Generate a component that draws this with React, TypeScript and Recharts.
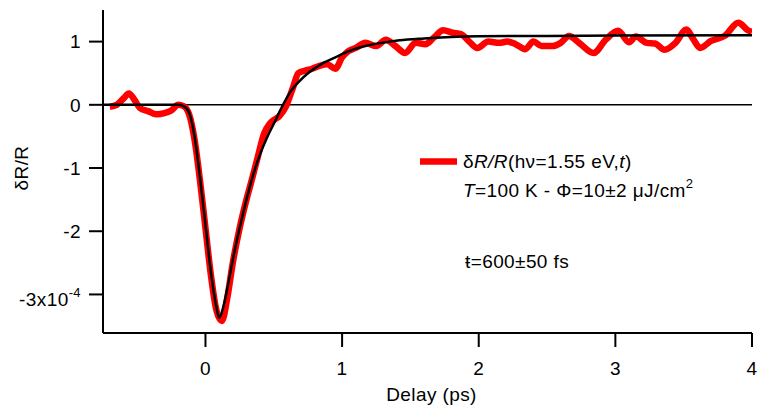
import { Line, LineChart, ReferenceLine, XAxis, YAxis } from "recharts";

// δR/R transient (units of 1e-4) vs delay (ps)
const DELAY_DATA = [
  -0.7, -0.65, -0.6, -0.56, -0.52, -0.48, -0.42, -0.36, -0.3, -0.25, -0.2, -0.16,
  -0.12, -0.08, -0.04, 0.0, 0.04, 0.08, 0.12, 0.16, 0.2, 0.25, 0.3, 0.34, 0.38,
  0.43, 0.47, 0.5, 0.54, 0.59, 0.64, 0.68, 0.73, 0.78, 0.84, 0.89, 0.95, 1.0,
  1.04, 1.1, 1.17, 1.25, 1.32, 1.39, 1.46, 1.54, 1.61, 1.67, 1.74, 1.81, 1.87,
  1.93, 1.99, 2.07, 2.15, 2.21, 2.27, 2.34, 2.4, 2.46, 2.54, 2.6, 2.66, 2.74,
  2.84, 2.93, 3.02, 3.1, 3.15, 3.23, 3.29, 3.36, 3.44, 3.52, 3.57, 3.62, 3.7,
  3.8, 3.9, 3.97, 4.0,
];
const SIGNAL = [
  -0.03, 0.0, 0.1, 0.18, 0.08, -0.05, -0.1, -0.15, -0.13, -0.09, 0.0, -0.02,
  -0.15, -0.55, -1.2, -1.95, -2.7, -3.25, -3.42, -3.05, -2.5, -1.95, -1.5, -1.18,
  -0.85, -0.45, -0.3, -0.24, -0.18, -0.02, 0.27, 0.5, 0.54, 0.57, 0.62, 0.64,
  0.57, 0.75, 0.84, 0.9, 0.98, 0.93, 1.03, 0.93, 0.82, 0.98, 0.96, 1.06, 1.18,
  1.14, 1.12, 1.0, 0.9, 1.0, 0.98, 1.0, 0.96, 0.88, 1.0, 0.93, 0.93, 0.98, 1.09,
  0.97, 0.82, 1.03, 1.17, 0.99, 1.08, 0.98, 0.97, 0.87, 0.98, 1.19, 1.04, 0.9,
  1.01, 1.09, 1.3, 1.18, 1.15,
];

// fit curve
const DELAY_FIT = [
  -0.75, -0.3, -0.2, -0.16, -0.12, -0.08, -0.04, 0.0, 0.04, 0.08, 0.1, 0.13, 0.16,
  0.2, 0.25, 0.3, 0.35, 0.4, 0.45, 0.5, 0.56, 0.62, 0.69, 0.75, 0.81, 0.87, 0.93,
  1.05, 1.17, 1.29, 1.42, 1.6, 1.76, 2.0, 2.5, 3.0, 4.0,
];
const FIT = [
  0, 0, 0, -0.02, -0.12, -0.5, -1.15, -1.9, -2.65, -3.2, -3.37, -3.2, -2.9,
  -2.45, -1.95, -1.5, -1.1, -0.78, -0.52, -0.3, -0.03, 0.2, 0.38, 0.5, 0.59,
  0.67, 0.73, 0.85, 0.93, 0.98, 1.02, 1.05, 1.07, 1.085, 1.09, 1.095, 1.1,
];

const X_TICKS = [0, 1, 2, 3, 4];
const Y_TICKS = [-3, -2, -1, 0, 1];

const signalData = DELAY_DATA.map((t, i) => ({ t, v: SIGNAL[i] }));
const fitData = DELAY_FIT.map((t, i) => ({ t, v: FIT[i] }));

const RED = "#ff0000";
const FONT = "'Liberation Sans', Arial, Helvetica, sans-serif";
const FS = 19;
const LS = "0.4px";

function YTick({ x, y, payload }: any) {
  const v = payload.value;
  if (v === -3) {
    return (
      <text x={x} y={y + 12} textAnchor="end" fontSize={FS} letterSpacing={LS} fill="#000">
        -3x10
        <tspan dy={-9} fontSize={13}>
          -4
        </tspan>
      </text>
    );
  }
  return (
    <text x={x} y={y} dy="0.36em" textAnchor="end" fontSize={FS} letterSpacing={LS} fill="#000">
      {v}
    </text>
  );
}

export default function App() {
  return (
    <div
      style={{
        position: "absolute",
        left: 0,
        top: 0,
        width: 758,
        height: 412,
        fontFamily: FONT,
        letterSpacing: LS,
        background: "#fff",
      }}
    >
      <LineChart
        width={758}
        height={412}
        margin={{ top: 10, right: 6, bottom: 0, left: 0 }}
      >
        <XAxis
          type="number"
          dataKey="t"
          domain={[-0.75, 4]}
          ticks={X_TICKS}
          allowDataOverflow
          height={79}
          tickSize={14}
          tickMargin={15}
          axisLine={{ stroke: "#000", strokeWidth: 2 }}
          tickLine={{ stroke: "#000", strokeWidth: 2 }}
          tick={{ fill: "#000", fontSize: FS }}
          label={{
            value: "Delay (ps)",
            position: "insideBottom",
            offset: 11,
            fill: "#000",
            fontSize: FS,
            dx: 4,
          }}
        />
        <YAxis
          type="number"
          domain={[-3.61, 1.5]}
          ticks={Y_TICKS}
          allowDataOverflow
          width={103}
          tickSize={14}
          tickMargin={8}
          axisLine={{ stroke: "#000", strokeWidth: 2 }}
          tickLine={{ stroke: "#000", strokeWidth: 2 }}
          tick={<YTick />}
        />
        <ReferenceLine y={0} stroke="#000" strokeWidth={1.6} />
        <Line
          data={signalData}
          dataKey="v"
          type="monotone"
          stroke={RED}
          strokeWidth={6.5}
          dot={false}
          isAnimationActive={false}
        />
        <Line
          data={fitData}
          dataKey="v"
          type="monotone"
          stroke="#000"
          strokeWidth={2.5}
          dot={false}
          isAnimationActive={false}
        />
      </LineChart>
      <svg
        width={758}
        height={412}
        style={{ position: "absolute", left: 0, top: 0, pointerEvents: "none" }}
      >
        <text
          transform="translate(28,168) rotate(-90)"
          textAnchor="middle"
          fontSize={FS}
          fill="#000"
        >
          δR/R
        </text>
        <line x1={420} x2={457} y1={161.5} y2={161.5} stroke={RED} strokeWidth={6.5} />
        <text x={463} y={168} fontSize={FS} fill="#000">
          δ<tspan fontStyle="italic">R/R</tspan>(hν=1.55 eV,
          <tspan fontStyle="italic">t</tspan>)
        </text>
        <text x={463} y={197} fontSize={FS} fill="#000">
          <tspan fontStyle="italic">T</tspan>=100 K - Φ=10±2 μJ/cm
          <tspan dy={-9} fontSize={13}>
            2
          </tspan>
        </text>
        <text x={465} y={268} fontSize={FS} fill="#000">
          ŧ=600±50 fs
        </text>
      </svg>
    </div>
  );
}
